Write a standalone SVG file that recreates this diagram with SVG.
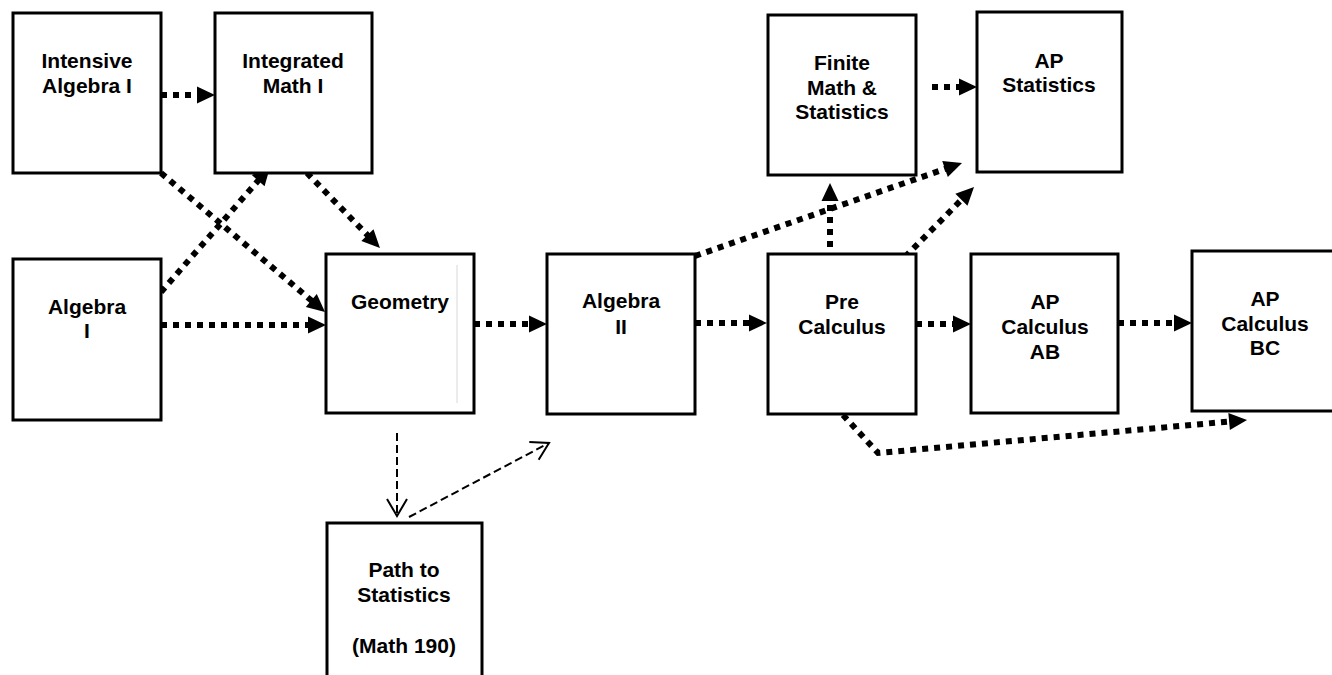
<svg xmlns="http://www.w3.org/2000/svg" width="1332" height="675" viewBox="0 0 1332 675">
<style>
.box{fill:#fff;stroke:#000;stroke-width:3}
.t{font-family:"Liberation Sans",Arial,sans-serif;font-weight:bold;font-size:21px;fill:#000;text-anchor:middle}
.dot{fill:none;stroke:#000;stroke-width:6;stroke-dasharray:6 6}
.dash{fill:none;stroke:#000;stroke-width:2;stroke-dasharray:8 4}
</style>
<defs>
<marker id="ah" markerUnits="userSpaceOnUse" markerWidth="20" markerHeight="20" refX="2" refY="8.5" orient="auto" overflow="visible">
<path d="M0,0 L18,8.5 L0,17 Z" fill="#000"/>
</marker>
<marker id="oh" markerUnits="userSpaceOnUse" markerWidth="20" markerHeight="22" refX="17" refY="10" orient="auto" overflow="visible">
<path d="M0,0 L17,10 L0,20" fill="none" stroke="#000" stroke-width="2"/>
</marker>
</defs>
<rect width="1332" height="675" fill="#fff"/>
<g id="connectors">
<line class="dot" x1="161" y1="95" x2="199" y2="95" marker-end="url(#ah)"/>
<line class="dot" x1="161" y1="173" x2="312.8" y2="301.7" marker-end="url(#ah)"/>
<line class="dot" x1="161" y1="292" x2="259.5" y2="179.1" marker-end="url(#ah)"/>
<line class="dot" x1="307" y1="173" x2="368.8" y2="236.5" marker-end="url(#ah)"/>
<line class="dot" x1="161" y1="325" x2="310" y2="325" marker-end="url(#ah)"/>
<line class="dot" x1="474" y1="324" x2="531" y2="324" marker-end="url(#ah)"/>
<line class="dot" x1="695" y1="323" x2="751" y2="323" marker-end="url(#ah)"/>
<line class="dot" x1="916" y1="324" x2="955" y2="324" marker-end="url(#ah)"/>
<line class="dot" x1="1118" y1="323" x2="1176" y2="323" marker-end="url(#ah)"/>
<line class="dot" x1="695" y1="256" x2="946.9" y2="168.3" marker-end="url(#ah)"/>
<line class="dot" x1="830" y1="247" x2="830" y2="199" marker-end="url(#ah)"/>
<line class="dot" x1="905" y1="257" x2="962.8" y2="198.4" marker-end="url(#ah)"/>
<line class="dot" x1="932" y1="87" x2="961" y2="87" marker-end="url(#ah)"/>
<polyline class="dot" points="843,415 878,453 1231.1,421.4" marker-end="url(#ah)"/>
<line class="dash" x1="397" y1="433" x2="397" y2="516" marker-end="url(#oh)"/>
<line class="dash" x1="409" y1="517" x2="549" y2="443" marker-end="url(#oh)"/>
</g>
<g id="intensive-algebra-1">
<rect class="box" x="13" y="13" width="148" height="160"/>
<text class="t" x="87" y="68">Intensive</text>
<text class="t" x="87" y="93">Algebra I</text>
</g>
<g id="integrated-math-1">
<rect class="box" x="215" y="13" width="157" height="160"/>
<text class="t" x="293" y="68">Integrated</text>
<text class="t" x="293" y="93">Math I</text>
</g>
<g id="algebra-1">
<rect class="box" x="13" y="259" width="148" height="161"/>
<text class="t" x="87" y="314">Algebra</text>
<text class="t" x="87" y="338">I</text>
</g>
<g id="geometry">
<rect class="box" x="326" y="254" width="148" height="159"/>
<line x1="457" y1="265" x2="457" y2="403" stroke="#d8d8d8" stroke-width="1"/>
<text class="t" x="400" y="309">Geometry</text>
</g>
<g id="algebra-2">
<rect class="box" x="547" y="254" width="148" height="160"/>
<text class="t" x="621" y="308">Algebra</text>
<text class="t" x="621" y="334">II</text>
</g>
<g id="pre-calculus">
<rect class="box" x="768" y="254" width="148" height="160"/>
<text class="t" x="842" y="309">Pre</text>
<text class="t" x="842" y="334">Calculus</text>
</g>
<g id="ap-calculus-ab">
<rect class="box" x="971" y="254" width="147" height="159"/>
<text class="t" x="1045" y="309">AP</text>
<text class="t" x="1045" y="334">Calculus</text>
<text class="t" x="1045" y="359">AB</text>
</g>
<g id="ap-calculus-bc">
<rect class="box" x="1192" y="251" width="146" height="160"/>
<text class="t" x="1265" y="306">AP</text>
<text class="t" x="1265" y="331">Calculus</text>
<text class="t" x="1265" y="355">BC</text>
</g>
<g id="finite-math-statistics">
<rect class="box" x="768" y="15" width="148" height="160"/>
<text class="t" x="842" y="70">Finite</text>
<text class="t" x="842" y="95">Math &amp;</text>
<text class="t" x="842" y="119">Statistics</text>
</g>
<g id="ap-statistics">
<rect class="box" x="977" y="12" width="145" height="160"/>
<text class="t" x="1049" y="68">AP</text>
<text class="t" x="1049" y="92">Statistics</text>
</g>
<g id="path-to-statistics">
<rect class="box" x="327" y="523" width="155" height="170"/>
<text class="t" x="404" y="577">Path to</text>
<text class="t" x="404" y="602">Statistics</text>
<text class="t" x="404" y="653">(Math 190)</text>
</g>
</svg>
